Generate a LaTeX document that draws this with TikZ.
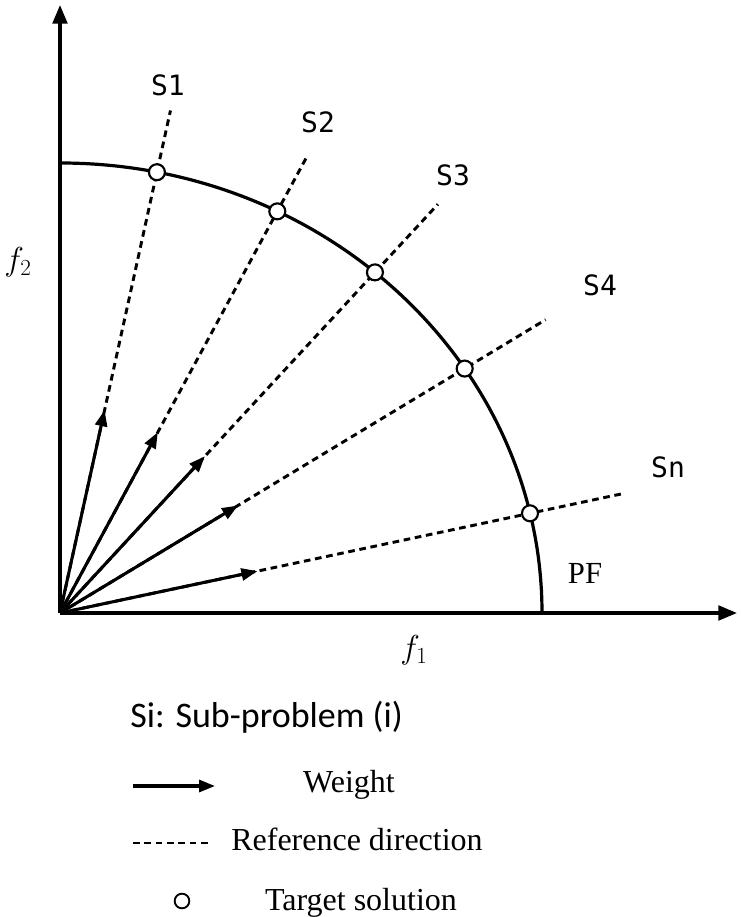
\documentclass[tikz,border=0pt]{standalone}
\usepackage{fontspec}
\setmainfont{Liberation Serif}
\newfontfamily\sublabelfont{DejaVu Sans Mono}
\newfontfamily\keyfont{Carlito}
\usetikzlibrary{arrows.meta,calc}

\tikzstyle{target} = [circle, draw=black, fill=white, line width=1.6pt, inner sep=0pt, minimum size=12pt]
\tikzstyle{axis} = [line width=2.4pt, -{Triangle[length=14pt,width=11pt]}]
\tikzstyle{weight} = [line width=2.3pt, -{Triangle[length=12pt,width=9pt]}]
\tikzstyle{refdir} = [line width=2.2pt, dash pattern=on 5pt off 3.5pt]
\tikzstyle{front} = [line width=2.4pt]
\tikzstyle{sublabel} = [font=\sublabelfont\fontsize{21}{24}\selectfont, inner sep=0pt]
\tikzstyle{keytext} = [font=\fontsize{24}{28}\selectfont, inner sep=0pt, anchor=base]

\begin{document}
\begin{tikzpicture}[x=0.75pt, y=0.75pt]
      \useasboundingbox (-60,-304) rectangle (681,613);
      \coordinate (O) at (0,0);
      \coordinate (xend) at (677,0);
      \coordinate (yend) at (0,608);
      \coordinate (pfstart) at (482,0);
      \coordinate (c1) at (78.4:482 and 450);
      \coordinate (c2) at (63.2:482 and 450);
      \coordinate (c3) at (49.2:482 and 450);
      \coordinate (c4) at (32.9:482 and 450);
      \coordinate (cn) at (12.8:482 and 450);
      \coordinate (e1) at ($(O)!1.14!(c1)$);
      \coordinate (e2) at ($(O)!1.14!(c2)$);
      \coordinate (e3) at ($(O)!1.2!(c3)$);
      \coordinate (e4) at ($(O)!1.2!(c4)$);
      \coordinate (en) at ($(O)!1.2!(cn)$);
      \coordinate (w1) at ($(O)!0.46!(c1)$);
      \coordinate (w2) at ($(O)!0.45!(c2)$);
      \coordinate (w3) at ($(O)!0.46!(c3)$);
      \coordinate (w4) at ($(O)!0.44!(c4)$);
      \coordinate (wn) at ($(O)!0.42!(cn)$);
      \draw[front] (pfstart) arc[start angle=0, end angle=90, x radius=482, y radius=450];
      \draw[refdir] (O) -- (e1);
      \draw[refdir] (O) -- (e2);
      \draw[refdir] (O) -- (e3);
      \draw[refdir] (O) -- (e4);
      \draw[refdir] (O) -- (en);
      \draw[weight] (O) -- (w1);
      \draw[weight] (O) -- (w2);
      \draw[weight] (O) -- (w3);
      \draw[weight] (O) -- (w4);
      \draw[weight] (O) -- (wn);
      \draw[axis] (O) -- (xend);
      \draw[axis] (O) -- (yend);
      \node[target] (t1) at (c1) {};
      \node[target] (t2) at (c2) {};
      \node[target] (t3) at (c3) {};
      \node[target] (t4) at (c4) {};
      \node[target] (tn) at (cn) {};
      \node[sublabel] (s1) at (108,528) {S1};
      \node[sublabel] (s2) at (258,491) {S2};
      \node[sublabel] (s3) at (393,438) {S3};
      \node[sublabel] (s4) at (540,328) {S4};
      \node[sublabel] (sn) at (608,146) {Sn};
      \node[font=\fontsize{23}{26}\selectfont, inner sep=0pt] (pf) at (525,40) {PF};
      \node[font=\fontsize{27}{30}\selectfont, inner sep=0pt] (f1) at (354,-37) {$f_1$};
      \node[font=\fontsize{27}{30}\selectfont, inner sep=0pt] (f2) at (-42,351) {$f_2$};
      \node[font=\keyfont\fontsize{27}{30}\selectfont, inner sep=0pt, anchor=base west] (key) at (70,-114) {Si: Sub-problem (i)};
      \coordinate (a1) at (73,-173);
      \coordinate (a2) at (155,-173);
      \draw[weight] (a1) -- (a2);
      \node[keytext] (lw) at (289,-179) {Weight};
      \coordinate (d1) at (73,-230);
      \coordinate (d2) at (152,-230);
      \draw[refdir] (d1) -- (d2);
      \node[keytext] (ld) at (297,-237) {Reference direction};
      \node[target, minimum size=11pt, line width=1.4pt] (lt) at (122,-288) {};
      \node[keytext] (ls) at (301,-297) {Target solution};
\end{tikzpicture}
\end{document}
